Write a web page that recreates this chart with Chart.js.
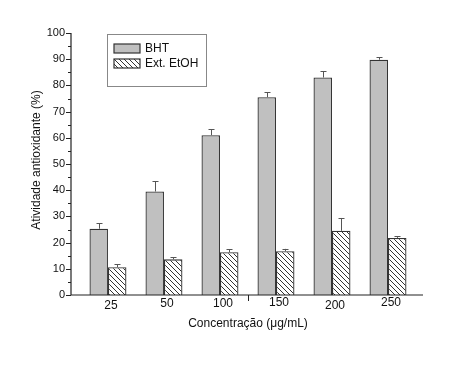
<!DOCTYPE html>
<html><head><meta charset="utf-8">
<script src="https://cdn.jsdelivr.net/npm/chart.js@4/dist/chart.umd.min.js"></script>
<style>html,body{margin:0;padding:0;background:#fff}#wrap{width:450px;height:369px}</style>
</head><body><div id="wrap"><canvas id="c" width="450" height="369"></canvas></div>
<script>
const categories = ['25','50','100','150','200','250'];
const bhtValues = [25.3, 39.5, 61.0, 75.5, 83.0, 89.8];
const bhtErrors = [2.0, 4.0, 2.2, 1.9, 2.5, 1.0];
const etohValues = [10.6, 13.6, 16.3, 16.7, 24.5, 21.8];
const etohErrors = [1.2, 0.8, 1.1, 0.9, 4.9, 0.7];
const yTicks = [0,10,20,30,40,50,60,70,80,90,100];
const yMinorTicks = [5,15,25,35,45,55,65,75,85,95];

function hatch(){
  const c = document.createElement('canvas'); c.width = 5; c.height = 5;
  const g = c.getContext('2d');
  g.fillStyle = '#fff'; g.fillRect(0,0,5,5);
  g.strokeStyle = '#333'; g.lineWidth = 1;
  g.beginPath();
  g.moveTo(-1,-1); g.lineTo(6,6);
  g.moveTo(-1,4); g.lineTo(1,6);
  g.moveTo(4,-1); g.lineTo(6,1);
  g.stroke();
  return document.getElementById('c').getContext('2d').createPattern(c,'repeat');
}
const pat = hatch();
const FONT = 'Liberation Sans, Arial, sans-serif';
const labelDy = [0,-2,-2,-3,0,-3];

const decor = {
  id:'decor',
  afterDatasetsDraw(chart){
    const ctx = chart.ctx, x = chart.scales.x, y = chart.scales.y, a = chart.chartArea;
    ctx.save();
    const errs = [bhtErrors, etohErrors];
    chart.data.datasets.forEach((ds,di)=>{
      const meta = chart.getDatasetMeta(di);
      meta.data.forEach((bar,i)=>{
        const v = ds.data[i].y, e = errs[di][i];
        const top = y.getPixelForValue(v), et = y.getPixelForValue(v+e);
        ctx.strokeStyle = '#555'; ctx.lineWidth = 1;
        ctx.beginPath();
        const bx = Math.round(bar.x)+0.5;
        ctx.moveTo(bx, top); ctx.lineTo(bx, et);
        ctx.moveTo(bx-3, Math.round(et)+0.5); ctx.lineTo(bx+3, Math.round(et)+0.5);
        ctx.stroke();
      });
    });
    ctx.strokeStyle = '#222'; ctx.lineWidth = 1.2;
    ctx.beginPath();
    ctx.moveTo(a.left, a.top); ctx.lineTo(a.left, a.bottom);
    ctx.lineTo(a.right, a.bottom);
    ctx.stroke();
    ctx.lineWidth = 1;
    ctx.beginPath();
    yTicks.forEach(t=>{ const p = Math.round(y.getPixelForValue(t))+0.5; ctx.moveTo(a.left-5,p); ctx.lineTo(a.left,p); });
    yMinorTicks.forEach(t=>{ const p = Math.round(y.getPixelForValue(t))+0.5; ctx.moveTo(a.left-3,p); ctx.lineTo(a.left,p); });
    const mx = Math.round(x.getPixelForValue(2.5))+0.5;
    ctx.moveTo(mx, a.bottom); ctx.lineTo(mx, a.bottom+6);
    ctx.stroke();
    ctx.fillStyle = '#111';
    ctx.font = '11px ' + FONT;
    ctx.textAlign = 'right'; ctx.textBaseline = 'middle';
    yTicks.forEach(t=> ctx.fillText(String(t), a.left-6, y.getPixelForValue(t)));
    ctx.textAlign = 'center';
    ctx.font = '12px ' + FONT;
    categories.forEach((c,i)=> ctx.fillText(c, x.getPixelForValue(i)+3, 306+labelDy[i]));
    ctx.fillText('Concentração (μg/mL)', 248, 324);
    ctx.save();
    ctx.translate(37, 160); ctx.rotate(-Math.PI/2);
    ctx.fillText('Atividade antioxidante (%)', 0, 0);
    ctx.restore();
    ctx.strokeStyle = '#888'; ctx.lineWidth = 1;
    ctx.strokeRect(107.5, 34.5, 99, 52);
    ctx.fillStyle = '#c0c0c0'; ctx.fillRect(114, 44, 26, 9);
    ctx.strokeStyle = '#333'; ctx.lineWidth = 1.2; ctx.strokeRect(114, 44, 26, 9);
    ctx.fillStyle = pat; ctx.fillRect(114, 59, 26, 9); ctx.strokeRect(114, 59, 26, 9);
    ctx.fillStyle = '#111'; ctx.textAlign = 'left'; ctx.font = '12px ' + FONT;
    ctx.fillText('BHT', 145, 49); ctx.fillText('Ext. EtOH', 145, 64);
    ctx.restore();
  }
};

new Chart(document.getElementById('c'), {
  type:'bar',
  data:{
    datasets:[
      {label:'BHT', data: bhtValues.map((v,i)=>({x:i,y:v})), backgroundColor:'#c0c0c0', borderColor:'#333', borderWidth:1.3, borderSkipped:'bottom'},
      {label:'Ext. EtOH', data: etohValues.map((v,i)=>({x:i,y:v})), backgroundColor:pat, borderColor:'#333', borderWidth:1.3, borderSkipped:'bottom'}
    ]
  },
  options:{
    responsive:false, animation:false, devicePixelRatio:1,
    layout:{padding:{left:71, right:27, top:33, bottom:74}},
    datasets:{bar:{categoryPercentage:0.66, barPercentage:1}},
    plugins:{legend:{display:false}, tooltip:{enabled:false}},
    scales:{
      x:{type:'linear', min:-0.66, max:5.625, offset:false, display:false},
      y:{min:0, max:100, display:false}
    }
  },
  plugins:[decor]
});
</script></body></html>
